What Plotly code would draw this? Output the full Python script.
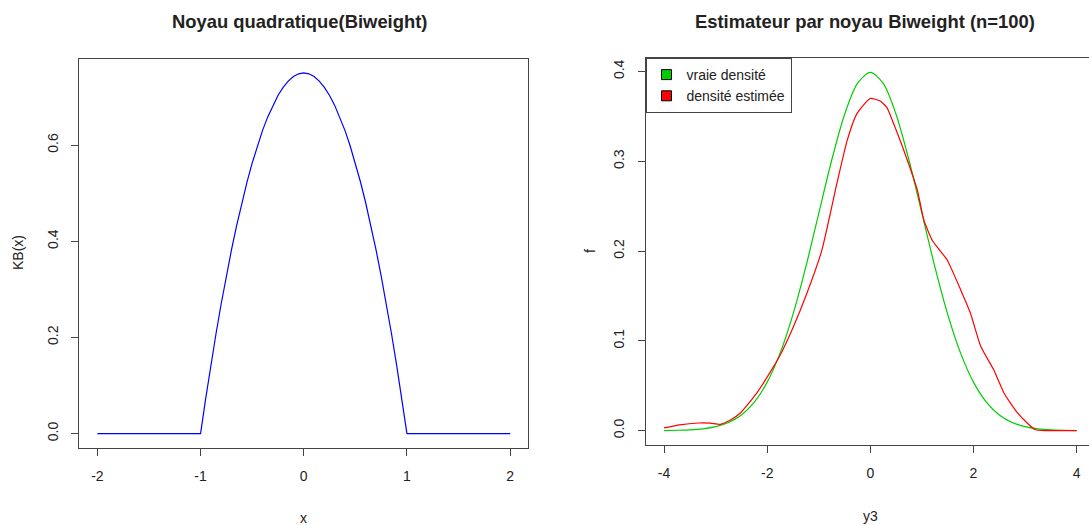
import plotly.graph_objects as go

# ---- Left panel: quadratic kernel values ----
x_kernel = [-2.0, -1.0, -0.95, -0.9, -0.85, -0.8, -0.75, -0.7, -0.65, -0.6, -0.55, -0.5,
            -0.45, -0.4, -0.35, -0.3, -0.25, -0.2, -0.15, -0.1, -0.05, 0.0,
            0.05, 0.1, 0.15, 0.2, 0.25, 0.3, 0.35, 0.4, 0.45, 0.5, 0.55, 0.6, 0.65, 0.7,
            0.75, 0.8, 0.85, 0.9, 0.95, 1.0, 2.0]
kb_values = [0.0, 0.0, 0.0731, 0.1425, 0.2081, 0.27, 0.3281, 0.3825, 0.4331, 0.48, 0.5231,
             0.5625, 0.5981, 0.63, 0.6581, 0.6825, 0.7031, 0.72, 0.7331, 0.7425, 0.7481, 0.75,
             0.7481, 0.7425, 0.7331, 0.72, 0.7031, 0.6825, 0.6581, 0.63, 0.5981, 0.5625,
             0.5231, 0.48, 0.4331, 0.3825, 0.3281, 0.27, 0.2081, 0.1425, 0.0731, 0.0, 0.0]

# ---- Right panel: true density (green) ----
x_true = [-4.0, -3.75, -3.5, -3.25, -3.0, -2.75, -2.5, -2.25, -2.0, -1.75, -1.5, -1.25,
          -1.0, -0.75, -0.5, -0.25, 0.0, 0.25, 0.5, 0.75, 1.0, 1.25, 1.5, 1.75, 2.0,
          2.25, 2.5, 2.75, 3.0, 3.25, 3.5, 3.75, 4.0]
f_true = [0.0001, 0.0004, 0.0009, 0.0020, 0.0044, 0.0091, 0.0175, 0.0317, 0.0540, 0.0863,
          0.1295, 0.1826, 0.2420, 0.3011, 0.3521, 0.3867, 0.3989, 0.3867, 0.3521, 0.3011,
          0.2420, 0.1826, 0.1295, 0.0863, 0.0540, 0.0317, 0.0175, 0.0091, 0.0044, 0.0020,
          0.0009, 0.0004, 0.0001]

# ---- Right panel: estimated density (red) ----
x_est = [-4.0, -3.7, -3.33, -3.1, -2.91, -2.72, -2.52, -2.2, -1.88, -1.75, -1.49, -1.23,
         -0.94, -0.65, -0.45, -0.26, 0.0, 0.19, 0.32, 0.45, 0.65, 0.91, 1.04, 1.2, 1.29,
         1.49, 1.75, 1.94, 2.14, 2.39, 2.59, 2.85, 3.05, 3.2, 3.4, 4.0]
f_est = [0.003, 0.0065, 0.0085, 0.0083, 0.007, 0.0115, 0.0196, 0.042, 0.071, 0.084, 0.116,
         0.153, 0.201, 0.275, 0.323, 0.353, 0.370, 0.367, 0.360, 0.342, 0.312, 0.268, 0.234,
         0.212, 0.205, 0.19, 0.157, 0.131, 0.094, 0.068, 0.042, 0.020, 0.008, 0.001, 0.0, 0.0]

left_xticks = [-2, -1, 0, 1, 2]
left_xlabels = ["-2", "-1", "0", "1", "2"]
left_yticks = [0.0, 0.2, 0.4, 0.6]
left_ylabels = ["0.0", "0.2", "0.4", "0.6"]
right_xticks = [-4, -2, 0, 2, 4]
right_xlabels = ["-4", "-2", "0", "2", "4"]
right_yticks = [0.0, 0.1, 0.2, 0.3, 0.4]
right_ylabels = ["0.0", "0.1", "0.2", "0.3", "0.4"]
legend_labels = ["vraie densité", "densité estimée"]

W, H = 1089, 525
FONT = "Liberation Sans, Arial, sans-serif"
TXT = "#222222"
AX = "#444444"
GREEN = "#00CD00"
RED = "#FF0000"
BLUE = "#0000FF"

fig = go.Figure()

fig.add_trace(go.Scatter(x=x_kernel, y=kb_values, mode="lines",
                         line=dict(color=BLUE, width=1.2), showlegend=False,
                         xaxis="x", yaxis="y"))
fig.add_trace(go.Scatter(x=x_true, y=f_true, mode="lines", line_shape="spline",
                         line=dict(color=GREEN, width=1.2, smoothing=0.8), showlegend=False,
                         xaxis="x2", yaxis="y2"))
fig.add_trace(go.Scatter(x=x_est, y=f_est, mode="lines", line_shape="spline",
                         line=dict(color=RED, width=1.2, smoothing=0.5), showlegend=False,
                         xaxis="x2", yaxis="y2"))
# legend entries (filled squares like R's legend fill)
for lab, col in zip(legend_labels, [GREEN, RED]):
    fig.add_trace(go.Scatter(x=[None], y=[None], mode="markers", name=lab,
                             marker=dict(symbol="square", size=10, color=col,
                                         line=dict(color="black", width=1)),
                             xaxis="x2", yaxis="y2"))

def px_x(p):
    return p / W

def px_y(p):
    return 1 - p / H

common_axis = dict(showgrid=False, zeroline=False, showline=True, linecolor=AX, linewidth=1,
                   ticks="outside", ticklen=7, tickcolor=AX, tickwidth=1,
                   tickfont=dict(family=FONT, size=14, color=TXT))

fig.update_layout(
    width=W, height=H,
    margin=dict(l=0, r=0, t=0, b=0),
    paper_bgcolor="white", plot_bgcolor="white",
    font=dict(family=FONT, color=TXT),
    xaxis=dict(domain=[px_x(79.3), px_x(528)], range=[-2.175, 2.173], anchor="y",
               tickvals=left_xticks, ticktext=left_xlabels, mirror=True,
               ticklabelstandoff=8, **common_axis),
    yaxis=dict(domain=[px_y(448), px_y(58.5)], range=[-0.03, 0.78], anchor="x",
               tickvals=left_yticks, ticktext=left_ylabels, tickangle=-90, mirror=True,
               ticklabelstandoff=8, **common_axis),
    xaxis2=dict(domain=[px_x(645.5), 1.0], range=[-4.36, 4.24], anchor="y2",
                tickvals=right_xticks, ticktext=right_xlabels, mirror=True,
                ticklabelstandoff=8, **common_axis),
    yaxis2=dict(domain=[px_y(445), px_y(58)], range=[-0.016, 0.415], anchor="x2",
                tickvals=right_yticks, ticktext=right_ylabels, tickangle=-90,
                ticklabelstandoff=8, **common_axis),
    legend=dict(x=px_x(645.5), y=px_y(58), xanchor="left", yanchor="top",
                bgcolor="white", bordercolor=AX, borderwidth=1,
                font=dict(family=FONT, size=14, color=TXT), itemwidth=30,
                tracegroupgap=0),
)

annotations = [
    dict(text="<b>Noyau quadratique(Biweight)</b>", x=px_x(299), y=px_y(22),
         font=dict(size=18.4)),
    dict(text="<b>Estimateur par noyau Biweight (n=100)</b>", x=px_x(865), y=px_y(22),
         font=dict(size=18.4)),
    dict(text="x", x=px_x(303.8), y=px_y(518), font=dict(size=14)),
    dict(text="y3", x=px_x(870), y=px_y(516), font=dict(size=14)),
    dict(text="KB(x)", x=px_x(18), y=px_y(253), textangle=-90, font=dict(size=14)),
    dict(text="f", x=px_x(590), y=px_y(251), textangle=-90, font=dict(size=14)),
]
for a in annotations:
    a.update(xref="paper", yref="paper", xanchor="center", yanchor="middle",
             showarrow=False)
    a["font"].update(family=FONT, color=TXT)
fig.update_layout(annotations=annotations)

fig.write_html("out.html")
